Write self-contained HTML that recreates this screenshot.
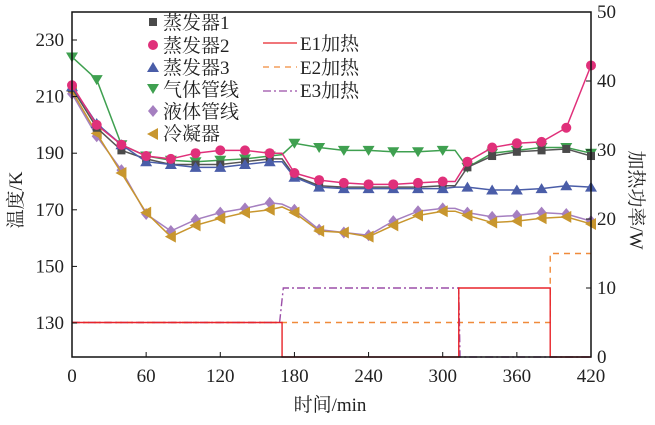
<!DOCTYPE html>
<html><head><meta charset="utf-8"><style>
body{margin:0;background:#fff}
svg text{font-family:"Liberation Serif","Noto Serif CJK SC","Noto Sans CJK SC",serif;fill:#222}
</style></head><body>
<svg id="c" width="655" height="420">
<text x="330" y="411" text-anchor="middle" font-size="19">时间/min</text>
<text transform="translate(22,200) rotate(-90)" text-anchor="middle" font-size="19">温度/K</text>
<text transform="translate(630,200) rotate(90)" text-anchor="middle" font-size="19">加热功率/W</text>
<g font-size="19">
<rect x="149" y="18" width="8" height="8" fill="#4a4a4a"/><text x="163" y="29">蒸发器1</text>
<circle cx="153" cy="45" r="5" fill="#e0307a"/><text x="163" y="52">蒸发器2</text>
<polygon points="153,62 147,72 159,72" fill="#4a5da8"/><text x="163" y="74">蒸发器3</text>
<polygon points="153,94 147,84 159,84" fill="#3fa050"/><text x="163" y="96">气体管线</text>
<polygon points="153,105 158,111 153,117 148,111" fill="#a57fc0"/><text x="163" y="118">液体管线</text>
<polygon points="147,134 158,128 158,140" fill="#c8962e"/><text x="163" y="140">冷凝器</text>
<line x1="263" x2="297" y1="43" y2="43" stroke="#e8242a" stroke-width="1.3"/><text x="300" y="50">E1加热</text>
<line x1="263" x2="297" y1="67" y2="67" stroke="#f08a3a" stroke-width="1.3" stroke-dasharray="6,5"/><text x="300" y="74">E2加热</text>
<line x1="263" x2="297" y1="91" y2="91" stroke="#9b4ea8" stroke-width="1.3" stroke-dasharray="8,3,2,3"/><text x="300" y="97">E3加热</text>
</g>
</svg>
<script>
const times=[0,20,40,60,80,100,120,140,160,170,180,200,220,240,260,280,300,310,320,340,360,380,400,420];
const evap1=[213,199,191,188,186,186,186,187,188,188,182,178.5,178,178,178,178,178.5,178.5,185,189,190.5,191,191.5,189];
const evap2=[214,200,193,189,188,190,191,191,190,190,183,180.5,179.5,179,179,179.5,180,180,187,192,193.5,194,199,221];
const evap3=[213.5,200.5,193,187,186,185,185,186,187,187,181.5,178,177.5,177.5,177.5,177.5,177.5,178,178,177,177,177.5,178.5,178];
const gasLine=[224,216,193,189,187.5,187,187.5,188,189,189.5,193.5,192,191,191,190.5,190.5,191,191,185,190,191,192,192,190];
const liquidLine=[211,196,184,168.5,162.5,166.5,169,170.5,172.5,172,170,163,162,161,166,169.5,170.5,170.5,169,167.5,168,169,168.5,166];
const condenser=[212,197,183,169,160.5,164.5,167,169,170,171,169,162.5,162,160.5,164.5,168,169.5,169.5,168,165.5,166,167,167.5,165];
const e1Times=[0,170,170,313,313,387,387,420];
const e1Power=[5,5,0,0,10,10,0,0];
const e2Times=[0,387,387,420];
const e2Power=[5,5,15,15];
const e3Times=[0,168,171,313,314,420];
const e3Power=[5,5,10,10,0,0];
const xTicks=[0,60,120,180,240,300,360,420];
const yTicks=[130,150,170,190,210,230];
const y2Ticks=[0,10,20,30,40,50];

const NS='http://www.w3.org/2000/svg';
const svg=document.getElementById('c');
const X0=72,X1=591,T=12,B=357;
const x=t=>X0+(t/420)*(X1-X0);
const y=k=>40+(230-k)*2.83;
const y2=w=>B-w*(B-T)/50;
function mk(tag,attrs,parent){const e=document.createElementNS(NS,tag);for(const k in attrs)e.setAttribute(k,attrs[k]);(parent||svg).appendChild(e);return e;}

function step(ts,ps,color,dash,name){
  const p=mk('polyline',{points:ts.map((t,i)=>x(t)+','+y2(ps[i])).join(' '),fill:'none',stroke:color,'stroke-width':1.4,'stroke-dasharray':dash});
  
  
}
step(e2Times,e2Power,'#f08a3a','6,5','e2-heating-line');
step(e3Times,e3Power,'#9b4ea8','8,3,2,3','e3-heating-line');
step(e1Times,e1Power,'#e8242a','','e1-heating-line');

function marker(type,cx,cy,color,g){
  if(type==='sq')mk('rect',{x:cx-4,y:cy-4,width:8,height:8,fill:color},g);
  else if(type==='ci')mk('circle',{cx,cy,r:5,fill:color},g);
  else if(type==='up')mk('polygon',{points:`${cx},${cy-5.5} ${cx-6},${cy+4.5} ${cx+6},${cy+4.5}`,fill:color},g);
  else if(type==='dn')mk('polygon',{points:`${cx},${cy+5.5} ${cx-6},${cy-4.5} ${cx+6},${cy-4.5}`,fill:color},g);
  else if(type==='di')mk('polygon',{points:`${cx},${cy-6} ${cx+5},${cy} ${cx},${cy+6} ${cx-5},${cy}`,fill:color},g);
  else if(type==='le')mk('polygon',{points:`${cx-6},${cy} ${cx+5},${cy-6} ${cx+5},${cy+6}`,fill:color},g);
}
function series(vals,type,line,mcol,name){
  const g=mk('g',{});
  
  
  mk('polyline',{points:times.map((t,i)=>x(t)+','+y(vals[i])).join(' '),fill:'none',stroke:line,'stroke-width':1.5},g);
  times.forEach((t,i)=>{if(t%20===0)marker(type,x(t),y(vals[i]),mcol,g);});
}
series(liquidLine,'di','#a57fc0','#a57fc0','liquid-line-series');
series(condenser,'le','#c8962e','#c8962e','condenser-series');
series(gasLine,'dn','#3fa050','#3fa050','gas-line-series');
series(evap1,'sq','#555','#4a4a4a','evaporator-1-series');
series(evap3,'up','#4a5da8','#4a5da8','evaporator-3-series');
series(evap2,'ci','#e0307a','#e0307a','evaporator-2-series');

const fr=mk('rect',{x:X0,y:T,width:X1-X0,height:B-T,fill:'none',stroke:'#111','stroke-width':1.5});


xTicks.forEach(t=>{mk('line',{x1:x(t),x2:x(t),y1:B,y2:B-5,stroke:'#111'});
  const l=mk('text',{x:x(t),y:B+25,'text-anchor':'middle','font-size':19});l.textContent=t;
  
  });
yTicks.forEach(k=>{mk('line',{x1:X0,x2:X0+5,y1:y(k),y2:y(k),stroke:'#111'});
  const l=mk('text',{x:X0-8,y:y(k)+6,'text-anchor':'end','font-size':19});l.textContent=k;
  
  });
y2Ticks.forEach(w=>{mk('line',{x1:X1,x2:X1-5,y1:y2(w),y2:y2(w),stroke:'#111'});
  const l=mk('text',{x:X1+6,y:y2(w)+6,'font-size':19});l.textContent=w;
  
  });
</script>
</body></html>
